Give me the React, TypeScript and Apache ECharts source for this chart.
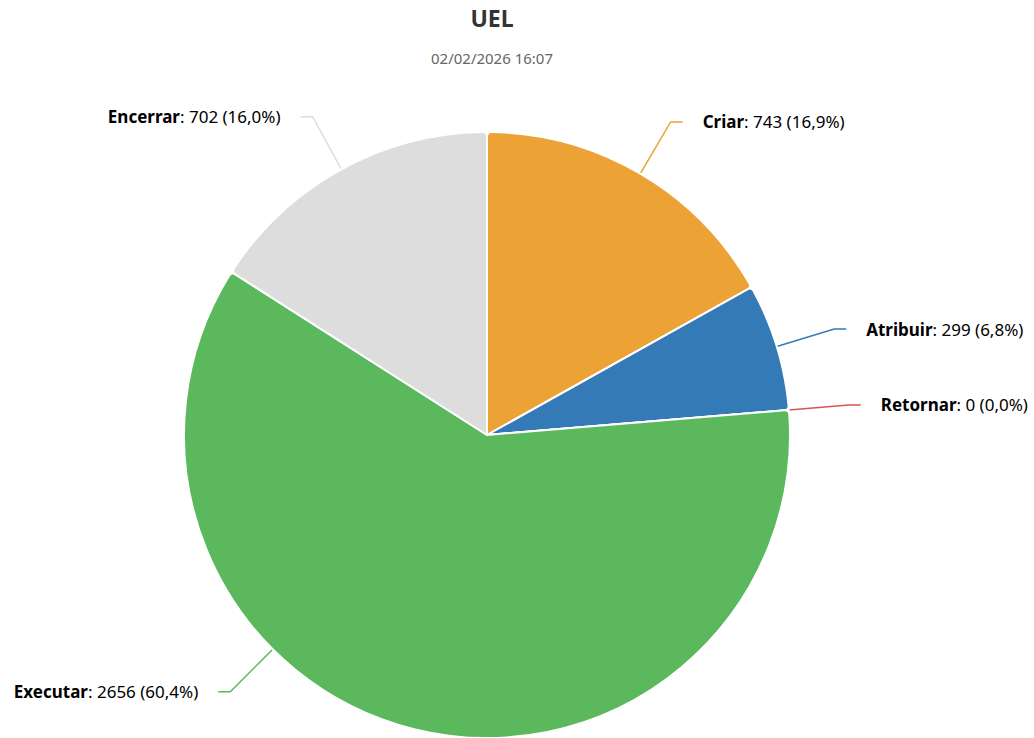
import React, { useEffect, useRef } from "react";
import * as echarts from "echarts";

const titleText = "UEL";
const subtitleText = "02/02/2026 16:07";
const categories = ["Criar", "Atribuir", "Retornar", "Executar", "Encerrar"];
const values = [743, 299, 0, 2656, 702];
const colors = ["#eda236", "#337ab7", "#d9534f", "#5cb85c", "#dddddd"];

const FONT = "'Segoe UI', 'Noto Sans', sans-serif";
const CX = 487;
const CY = 435;
const R = 303;
const LEN1 = 60;
const LEN2 = 12;
const LABEL_GAP = 20;
const EXECUTAR_ANGLE = 225; // degrees clockwise from top, where its label connector leaves the pie

export default function App() {
  const ref = useRef<HTMLDivElement>(null);
  useEffect(() => {
    if (!ref.current) return;
    const chart = echarts.init(ref.current, undefined, { renderer: "svg" });
    const total = values.reduce((a, b) => a + b, 0);
    const execIdx = categories.indexOf("Executar");
    chart.setOption({
      animation: false,
      title: {
        text: titleText,
        subtext: subtitleText,
        left: CX,
        textAlign: "center",
        top: 1,
        itemGap: 21,
        textStyle: { fontFamily: FONT, fontSize: 23, fontWeight: "bold", color: "#333333" },
        subtextStyle: { fontFamily: FONT, fontSize: 15, color: "#666666" },
      },
      series: [
        {
          type: "pie",
          center: [CX, CY],
          radius: R,
          startAngle: 90,
          clockwise: true,
          avoidLabelOverlap: false,
          itemStyle: { borderColor: "#ffffff", borderWidth: 2, borderRadius: 4 },
          label: {
            show: true,
            position: "outside",
            distanceToLabelLine: LABEL_GAP,
            fontFamily: FONT,
            fontSize: 17,
            color: "#000000",
            formatter: (p: any) => {
              const pct = ((p.value / total) * 100).toFixed(1).replace(".", ",");
              return `{b|${p.name}}: ${p.value} (${pct}%)`;
            },
            rich: {
              b: { fontFamily: FONT, fontSize: 17, fontWeight: "bold", color: "#000000" },
            },
          },
          labelLine: { show: true, length: LEN1, length2: LEN2, lineStyle: { width: 1.5 } },
          labelLayout: (params: any) => {
            if (params.dataIndex !== execIdx) return {};
            const a = (EXECUTAR_ANGLE * Math.PI) / 180;
            const dx = Math.sin(a);
            const dy = -Math.cos(a);
            const p0 = [CX + R * dx, CY + R * dy];
            const p1 = [p0[0] + LEN1 * dx, p0[1] + LEN1 * dy];
            const p2 = [p1[0] - LEN2, p1[1]];
            return {
              x: p2[0] - LABEL_GAP,
              y: p2[1],
              align: "right",
              verticalAlign: "middle",
              labelLinePoints: [p0, p1, p2],
            };
          },
          data: categories.map((c, i) => ({
            name: c,
            value: values[i],
            itemStyle: { color: colors[i] },
            labelLine: { lineStyle: { color: colors[i] } },
          })),
        },
      ],
    });
    return () => chart.dispose();
  }, []);
  return (
    <div
      ref={ref}
      style={{ position: "fixed", left: 0, top: 0, width: 1034, height: 738, background: "#ffffff" }}
    />
  );
}
